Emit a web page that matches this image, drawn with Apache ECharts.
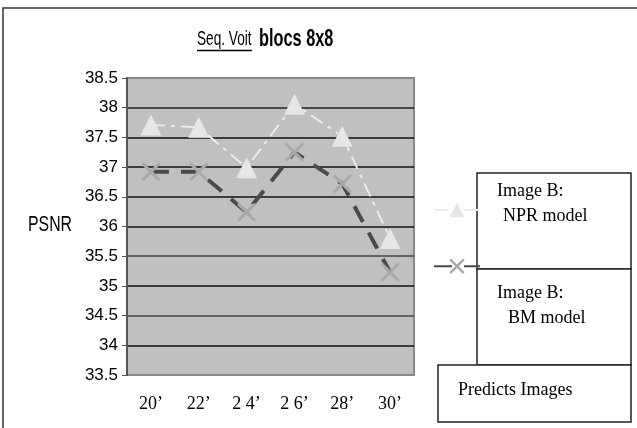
<!DOCTYPE html>
<html>
<head>
<meta charset="utf-8">
<script src="https://cdn.jsdelivr.net/npm/echarts@6/dist/echarts.min.js"></script>
<style>html,body{margin:0;padding:0;background:#fff}#c{width:637px;height:428px}</style>
</head>
<body>
<div id="c"></div>
<script>
const categories = ["20’", "22’", "2 4’", "2 6’", "28’", "30’"];
const nprValues = [37.71, 37.67, 36.99, 38.06, 37.52, 35.80];
const bmValues = [36.92, 36.92, 36.24, 37.25, 36.72, 35.23];
const seriesNames = ["Image B: NPR model", "Image B: BM model"];

const sans = "'Liberation Sans', Arial, sans-serif";
const serif = "'Liberation Serif', 'Times New Roman', serif";
const xPath = 'path://M0,0L1.2,0L5,3.8L8.8,0L10,0L10,1.2L6.2,5L10,8.8L10,10L8.8,10L5,6.2L1.2,10L0,10L0,8.8L3.8,5L0,1.2Z';

const chart = echarts.init(document.getElementById('c'), null, {renderer: 'canvas'});
chart.setOption({
  animation: false,
  backgroundColor: '#fff',
  grid: {
    left: 127, right: 223, top: 78, bottom: 53,
    show: true, backgroundColor: '#c0c0c0', borderColor: '#888', borderWidth: 2
  },
  xAxis: {
    type: 'category', data: categories, boundaryGap: true,
    axisLine: {show: false}, axisTick: {show: false},
    axisLabel: {fontFamily: serif, fontSize: 18, color: '#000', margin: 20}
  },
  yAxis: {
    type: 'value', min: 33.5, max: 38.5, interval: 0.5,
    axisLine: {show: true, lineStyle: {color: '#555', width: 2}},
    axisTick: {show: true, length: 5, lineStyle: {color: '#555', width: 1}},
    axisLabel: {fontFamily: sans, fontSize: 17, color: '#000', margin: 9},
    splitLine: {show: true, lineStyle: {width: 1.5,
      color: ['#888', '#111', '#444', '#111', '#444', '#111', '#111', '#111', '#111', '#222', '#888']}}
  },
  legend: {
    show: true, orient: 'vertical', left: 428, top: 196,
    itemWidth: 46, itemHeight: 18, itemGap: 40,
    formatter: () => '', textStyle: {fontSize: 1},
    data: seriesNames
  },
  series: [
    {
      name: seriesNames[0], type: 'line', data: nprValues,
      symbol: 'triangle', symbolSize: [21, 21],
      itemStyle: {color: '#e6e6e6'},
      lineStyle: {color: '#ececec', width: 2, type: [14, 6, 4, 6]},
      z: 3
    },
    {
      name: seriesNames[1], type: 'line', data: bmValues,
      symbol: xPath, symbolSize: 18,
      itemStyle: {color: '#a9a9a9'},
      lineStyle: {color: '#4a4a4a', width: 4, type: [18, 12]},
      z: 4
    }
  ],
  graphic: [
    {type: 'rect', shape: {x: 3, y: 8, width: 700, height: 500}, style: {fill: 'none', stroke: '#333', lineWidth: 1.5}, z: -10},
    {type: 'text', x: 197, y: 29, scaleX: 0.65, style: {x: 0, y: 0, text: 'Seq. Voit', font: "21px " + sans, fill: '#000', verticalAlign: 'top'}},
    {type: 'line', shape: {x1: 197, y1: 50.5, x2: 252, y2: 50.5}, style: {stroke: '#000', lineWidth: 1.5}},
    {type: 'text', x: 259, y: 27, scaleX: 0.68, style: {x: 0, y: 0, text: 'blocs 8x8', font: "bold 24px " + sans, fill: '#000', verticalAlign: 'top'}},
    {type: 'text', x: 28, y: 214, scaleX: 0.72, style: {x: 0, y: 0, text: 'PSNR', font: "22px " + sans, fill: '#000', verticalAlign: 'top'}},
    {type: 'rect', shape: {x: 477, y: 173, width: 154, height: 96}, style: {fill: '#fff', stroke: '#222', lineWidth: 1.5}},
    {type: 'rect', shape: {x: 477, y: 269, width: 154, height: 96}, style: {fill: '#fff', stroke: '#222', lineWidth: 1.5}},
    {type: 'rect', shape: {x: 438, y: 365, width: 193, height: 57}, style: {fill: '#fff', stroke: '#222', lineWidth: 1.5}},
    {type: 'text', left: 497, top: 182, style: {text: 'Image B:', font: "18px " + serif, fill: '#000'}},
    {type: 'text', left: 503, top: 207, style: {text: 'NPR model', font: "18px " + serif, fill: '#000'}},
    {type: 'text', left: 497, top: 284, style: {text: 'Image B:', font: "18px " + serif, fill: '#000'}},
    {type: 'text', left: 508, top: 309, style: {text: 'BM model', font: "18px " + serif, fill: '#000'}},
    {type: 'text', left: 458, top: 381, style: {text: 'Predicts Images', font: "18px " + serif, fill: '#000'}}
  ]
});
</script>
</body>
</html>
